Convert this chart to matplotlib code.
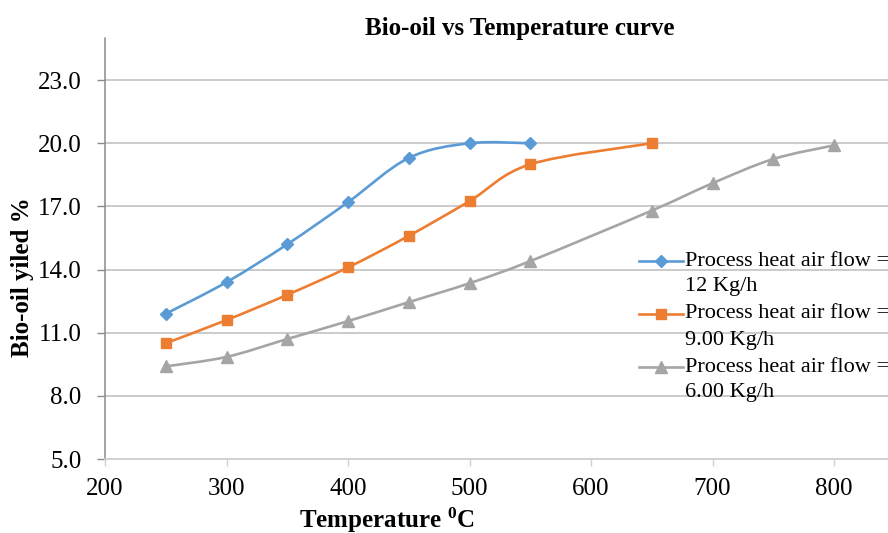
import numpy as np
import matplotlib.pyplot as plt
from matplotlib.path import Path
from matplotlib.patches import PathPatch
from matplotlib.lines import Line2D

plt.rcParams['font.family'] = ['Liberation Serif', 'DejaVu Serif']
plt.rcParams['mathtext.fontset'] = 'custom'
plt.rcParams['mathtext.bf'] = 'Liberation Serif:bold'
plt.rcParams['mathtext.rm'] = 'Liberation Serif'

# bio-oil yield (%) against temperature (deg C) for three air flows
temp_12 = [250, 300, 350, 400, 450, 500, 550]
yield_12 = [11.9, 13.4, 15.2, 17.2, 19.3, 20.0, 20.0]

temp_9 = [250, 300, 350, 400, 450, 500, 550, 650]
yield_9 = [10.5, 11.6, 12.8, 14.1, 15.6, 17.25, 19.0, 20.0]

temp_6 = [250, 300, 350, 400, 450, 500, 550, 650, 700, 750, 800]
yield_6 = [9.4, 9.85, 10.7, 11.55, 12.45, 13.35, 14.4, 16.8, 18.1, 19.25, 19.9]

labels = [('Process heat air flow =', '12 Kg/h'),
          ('Process heat air flow =', '9.00 Kg/h'),
          ('Process heat air flow =', '6.00 Kg/h')]
colors = ['#5b9bd5', '#ed7d31', '#a5a5a5']
markers = [('D', 6.5), ('s', 6.8), ('^', 8.0)]

yticks = [5.0, 8.0, 11.0, 14.0, 17.0, 20.0, 23.0]
xticks = [200, 300, 400, 500, 600, 700, 800]


def smooth_path(x, y):
    # spreadsheet-style smoothed line: cubic bezier through every point
    p = np.column_stack([x, y]).astype(float)
    n = len(p)
    verts = [p[0]]
    codes = [Path.MOVETO]
    for i in range(n - 1):
        p0 = p[i - 1] if i > 0 else p[i]
        p3 = p[i + 2] if i + 2 < n else p[i + 1]
        c1 = p[i] + (p[i + 1] - p0) / 6.0
        c2 = p[i + 1] - (p3 - p[i]) / 6.0
        verts += [c1, c2, p[i + 1]]
        codes += [Path.CURVE4] * 3
    return Path(verts, codes)


fig = plt.figure(figsize=(8.88, 5.33), dpi=100)
W, H = 888.0, 533.0
ax = fig.add_axes([105 / W, 1 - 459 / H, 850.5 / W, 421 / H])

series = [(temp_12, yield_12), (temp_9, yield_9), (temp_6, yield_6)]
for (xs, ys), c, (m, ms) in zip(series, colors, markers):
    ax.add_patch(PathPatch(smooth_path(xs, ys), fill=False, edgecolor=c,
                           linewidth=1.9, zorder=3, capstyle='round'))
    ax.plot(xs, ys, linestyle='none', marker=m, markersize=ms,
            color=c, zorder=4)

ax.set_xlim(200, 900)
ax.set_ylim(5, 25)
ax.set_xticks(xticks)
ax.set_yticks(yticks)
ax.set_yticklabels(['%.1f' % v for v in yticks])
ax.tick_params(axis='both', labelsize=18, colors='#8c8c8c', labelcolor='black')
ax.tick_params(axis='y', length=6, width=1, pad=11)
ax.tick_params(axis='x', length=5, width=1, pad=9, colors='#d0d0d0',
               labelcolor='black')
ax.yaxis.grid(True, color='#bdbdbd', linewidth=1.1)
ax.set_axisbelow(True)
for s in ('top', 'right'):
    ax.spines[s].set_visible(False)
ax.spines['left'].set_color('#8c8c8c')
ax.spines['bottom'].set_color('#d0d0d0')
ax.spines['left'].set_linewidth(1.1)
ax.spines['bottom'].set_linewidth(1.3)

fig.text(520 / W, 1 - 29 / H, 'Bio-oil vs Temperature curve',
         fontsize=18, fontweight='bold', ha='center', va='center')
fig.text(387 / W, 1 - 520 / H, r'Temperature $\mathbf{^{0}}$C',
         fontsize=18, fontweight='bold', ha='center', va='center')
fig.text(22 / W, 1 - 277 / H, 'Bio-oil yiled %', fontsize=18,
         fontweight='bold', rotation=90, ha='center', va='center')

# legend drawn by hand so the key sits beside the first text line
rows = [261, 314, 367]
for (l1, l2), c, (m, ms), yr in zip(labels, colors, markers, rows):
    yf = 1 - yr / H
    key = Line2D([639 / W, 661 / W, 683 / W], [yf, yf, yf], color=c,
                 linewidth=1.9, marker=m, markersize=ms, markevery=[1],
                 transform=fig.transFigure)
    fig.add_artist(key)
    fig.text(685 / W, yf, l1, fontsize=16, ha='left', va='center')
    fig.text(685 / W, 1 - (yr + 26) / H, l2, fontsize=16, ha='left',
             va='center')

fig.savefig('out.png', dpi=100)
